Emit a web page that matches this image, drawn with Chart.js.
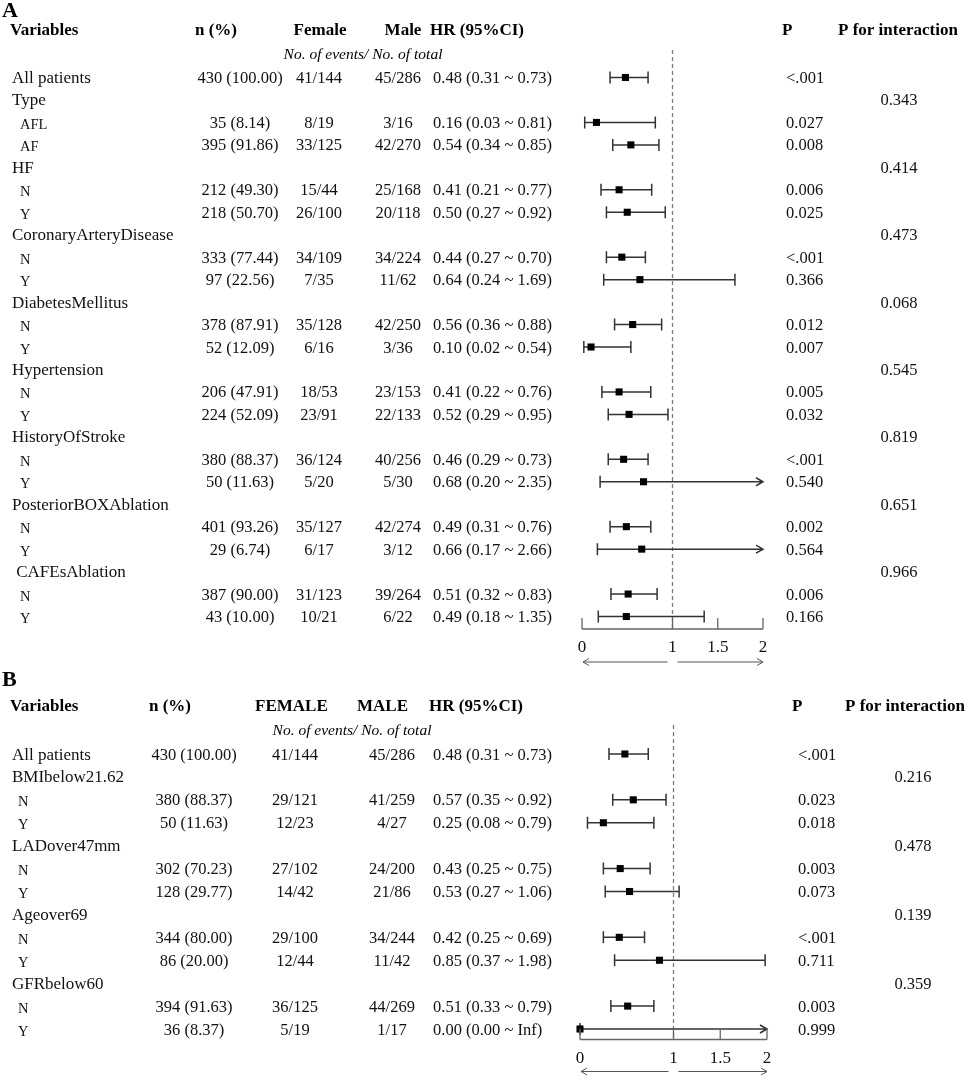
<!DOCTYPE html>
<html>
<head>
<meta charset="utf-8">
<title>Forest plots</title>
<script src="https://cdn.jsdelivr.net/npm/chart.js@4.4.0/dist/chart.umd.min.js"></script>
<style>
  html, body { margin: 0; padding: 0; background: #fff; }
  #wrap { position: relative; width: 972px; height: 1076px; overflow: hidden; }
  canvas { position: absolute; left: 0; }
</style>
</head>
<body>
<div id="wrap">
  <canvas id="chartA" width="972" height="672" style="top:0;width:972px;height:672px"></canvas>
  <canvas id="chartB" width="972" height="404" style="top:672px;width:972px;height:404px"></canvas>
</div>
<script>
// ---- Panel A data ----
const aVariables = ['All patients', 'Type', 'AFL', 'AF', 'HF', 'N', 'Y', 'CoronaryArteryDisease', 'N', 'Y',
  'DiabetesMellitus', 'N', 'Y', 'Hypertension', 'N', 'Y', 'HistoryOfStroke', 'N', 'Y',
  'PosteriorBOXAblation', 'N', 'Y', ' CAFEsAblation', 'N', 'Y'];
const aSub = [0, 0, 1, 1, 0, 1, 1, 0, 1, 1, 0, 1, 1, 0, 1, 1, 0, 1, 1, 0, 1, 1, 0, 1, 1];
const aCount = ['430 (100.00)', '', '35 (8.14)', '395 (91.86)', '', '212 (49.30)', '218 (50.70)', '', '333 (77.44)', '97 (22.56)',
  '', '378 (87.91)', '52 (12.09)', '', '206 (47.91)', '224 (52.09)', '', '380 (88.37)', '50 (11.63)',
  '', '401 (93.26)', '29 (6.74)', '', '387 (90.00)', '43 (10.00)'];
const aFemale = ['41/144', '', '8/19', '33/125', '', '15/44', '26/100', '', '34/109', '7/35',
  '', '35/128', '6/16', '', '18/53', '23/91', '', '36/124', '5/20', '', '35/127', '6/17', '', '31/123', '10/21'];
const aMale = ['45/286', '', '3/16', '42/270', '', '25/168', '20/118', '', '34/224', '11/62',
  '', '42/250', '3/36', '', '23/153', '22/133', '', '40/256', '5/30', '', '42/274', '3/12', '', '39/264', '6/22'];
const aHR = [0.48, null, 0.16, 0.54, null, 0.41, 0.50, null, 0.44, 0.64, null, 0.56, 0.10, null, 0.41, 0.52,
  null, 0.46, 0.68, null, 0.49, 0.66, null, 0.51, 0.49];
const aLower = [0.31, null, 0.03, 0.34, null, 0.21, 0.27, null, 0.27, 0.24, null, 0.36, 0.02, null, 0.22, 0.29,
  null, 0.29, 0.20, null, 0.31, 0.17, null, 0.32, 0.18];
const aUpper = [0.73, null, 0.81, 0.85, null, 0.77, 0.92, null, 0.70, 1.69, null, 0.88, 0.54, null, 0.76, 0.95,
  null, 0.73, 2.35, null, 0.76, 2.66, null, 0.83, 1.35];
const aP = ['<.001', '', '0.027', '0.008', '', '0.006', '0.025', '', '<.001', '0.366', '', '0.012', '0.007',
  '', '0.005', '0.032', '', '<.001', '0.540', '', '0.002', '0.564', '', '0.006', '0.166'];
const aPInt = ['', '0.343', '', '', '0.414', '', '', '0.473', '', '', '0.068', '', '', '0.545', '', '',
  '0.819', '', '', '0.651', '', '', '0.966', '', ''];

// ---- Panel B data ----
const bVariables = ['All patients', 'BMIbelow21.62', 'N', 'Y', 'LADover47mm', 'N', 'Y', 'Ageover69', 'N', 'Y', 'GFRbelow60', 'N', 'Y'];
const bSub = [0, 0, 1, 1, 0, 1, 1, 0, 1, 1, 0, 1, 1];
const bCount = ['430 (100.00)', '', '380 (88.37)', '50 (11.63)', '', '302 (70.23)', '128 (29.77)', '', '344 (80.00)', '86 (20.00)', '', '394 (91.63)', '36 (8.37)'];
const bFemale = ['41/144', '', '29/121', '12/23', '', '27/102', '14/42', '', '29/100', '12/44', '', '36/125', '5/19'];
const bMale = ['45/286', '', '41/259', '4/27', '', '24/200', '21/86', '', '34/244', '11/42', '', '44/269', '1/17'];
const bHR = [0.48, null, 0.57, 0.25, null, 0.43, 0.53, null, 0.42, 0.85, null, 0.51, 0.00];
const bLower = [0.31, null, 0.35, 0.08, null, 0.25, 0.27, null, 0.25, 0.37, null, 0.33, 0.00];
const bUpper = [0.73, null, 0.92, 0.79, null, 0.75, 1.06, null, 0.69, 1.98, null, 0.79, Infinity];
const bP = ['<.001', '', '0.023', '0.018', '', '0.003', '0.073', '', '<.001', '0.711', '', '0.003', '0.999'];
const bPInt = ['', '0.216', '', '', '0.478', '', '', '0.139', '', '', '0.359', '', ''];

// axis ticks
const axisTicks = [0, 1, 1.5, 2];
const axisLabels = ['0', '1', '1.5', '2'];

const SERIF = '"Liberation Serif", "Times New Roman", serif';
const fmt = v => (v === Infinity ? 'Inf' : v.toFixed(2));

// panel layout (pixels only, no data)
const panelA = {
  letter: 'A', letterY: 11,
  rows: aVariables, sub: aSub, count: aCount, female: aFemale, male: aMale,
  hr: aHR, lower: aLower, upper: aUpper, p: aP, pint: aPInt,
  pad: { left: 582, right: 209, top: 77.5, bottom: 55.5 },
  col: { label: 12, sub: 20, count: 240, female: 319, male: 398, hr: 433, p: 786, pint: 899 },
  headers: [
    ['Variables', 10, 'left'], ['n (%)', 195, 'left'], ['Female', 320, 'center'], ['Male', 403, 'center'],
    ['HR (95%CI)', 430, 'left'], ['P', 782, 'left'], ['P for interaction', 838, 'left']
  ],
  headY: -46.5, subY: -22.5, subX: 363, dashTop: -27.5,
  axisGap: 12.5, labelGap: 31.5, arrowGap: 45.5
};
const panelB = {
  letter: 'B', letterY: 8,
  rows: bVariables, sub: bSub, count: bCount, female: bFemale, male: bMale,
  hr: bHR, lower: bLower, upper: bUpper, p: bP, pint: bPInt,
  pad: { left: 580, right: 205, top: 82, bottom: 47 },
  col: { label: 12, sub: 18, count: 194, female: 295, male: 392, hr: 433, p: 798, pint: 913 },
  headers: [
    ['Variables', 10, 'left'], ['n (%)', 149, 'left'], ['FEMALE', 255, 'left'], ['MALE', 357, 'left'],
    ['HR (95%CI)', 429, 'left'], ['P', 792, 'left'], ['P for interaction', 845, 'left']
  ],
  headY: -47, subY: -23, subX: 352, dashTop: -29,
  axisGap: 10.5, labelGap: 29.5, arrowGap: 42.5
};

function forestPlugin(p) {
  return {
    id: 'forest' + p.letter,
    beforeDatasetsDraw(chart) {
      const { ctx, scales: { x, y } } = chart;
      const top = y.getPixelForValue(0);
      const bottom = y.getPixelForValue(p.rows.length - 1);
      const x1 = x.getPixelForValue(1);
      ctx.save();
      // dashed line at HR = 1
      ctx.strokeStyle = '#7a7a7a';
      ctx.lineWidth = 1.3;
      ctx.setLineDash([4, 3]);
      ctx.beginPath();
      ctx.moveTo(x1, top + p.dashTop);
      ctx.lineTo(x1, bottom + p.axisGap);
      ctx.stroke();
      ctx.setLineDash([]);
      // confidence intervals
      ctx.strokeStyle = '#333';
      ctx.lineWidth = 1.5;
      p.hr.forEach((v, i) => {
        if (v === null) return;
        const yy = y.getPixelForValue(i);
        const lo = x.getPixelForValue(p.lower[i]);
        const over = p.upper[i] > x.max;
        const hi = x.getPixelForValue(Math.min(p.upper[i], x.max));
        ctx.beginPath();
        ctx.moveTo(lo, yy); ctx.lineTo(hi, yy);
        ctx.moveTo(lo, yy - 6); ctx.lineTo(lo, yy + 6);
        if (over) {
          ctx.moveTo(hi - 7, yy - 4); ctx.lineTo(hi, yy); ctx.lineTo(hi - 7, yy + 4);
        } else {
          ctx.moveTo(hi, yy - 6); ctx.lineTo(hi, yy + 6);
        }
        ctx.stroke();
      });
      ctx.restore();
    },
    afterDraw(chart) {
      const { ctx, scales: { x, y } } = chart;
      const top = y.getPixelForValue(0);
      const bottom = y.getPixelForValue(p.rows.length - 1);
      const axisY = bottom + p.axisGap;
      ctx.save();
      // bottom axis with upward ticks
      ctx.strokeStyle = '#666';
      ctx.lineWidth = 1.3;
      ctx.beginPath();
      ctx.moveTo(x.getPixelForValue(axisTicks[0]), axisY);
      ctx.lineTo(x.getPixelForValue(axisTicks[axisTicks.length - 1]), axisY);
      axisTicks.forEach(t => {
        const tx = x.getPixelForValue(t);
        ctx.moveTo(tx, axisY); ctx.lineTo(tx, axisY - 11);
      });
      ctx.stroke();
      ctx.fillStyle = '#111';
      ctx.font = '17px ' + SERIF;
      ctx.textAlign = 'center';
      ctx.textBaseline = 'middle';
      axisTicks.forEach((t, k) => ctx.fillText(axisLabels[k], x.getPixelForValue(t), bottom + p.labelGap));
      // arrows under the axis
      const ay = bottom + p.arrowGap;
      const x0 = x.getPixelForValue(0), x1 = x.getPixelForValue(1), x2 = x.getPixelForValue(2);
      ctx.strokeStyle = '#555';
      ctx.lineWidth = 1;
      ctx.beginPath();
      ctx.moveTo(x1 - 5, ay); ctx.lineTo(x0 + 1, ay);
      ctx.moveTo(x0 + 7, ay - 3.5); ctx.lineTo(x0 + 1, ay); ctx.lineTo(x0 + 7, ay + 3.5);
      ctx.moveTo(x1 + 5, ay); ctx.lineTo(x2, ay);
      ctx.moveTo(x2 - 6, ay - 3.5); ctx.lineTo(x2, ay); ctx.lineTo(x2 - 6, ay + 3.5);
      ctx.stroke();

      // panel letter
      ctx.fillStyle = '#000';
      ctx.textAlign = 'left';
      ctx.font = 'bold 22px ' + SERIF;
      ctx.fillText(p.letter, 2, p.letterY);
      // headers
      ctx.font = 'bold 17px ' + SERIF;
      p.headers.forEach(([t, hx, al]) => {
        ctx.textAlign = al;
        ctx.fillText(t, hx, top + p.headY);
      });
      ctx.font = 'italic 15.5px ' + SERIF;
      ctx.textAlign = 'center';
      ctx.fillText('No. of events/ No. of total', p.subX, top + p.subY);

      // table rows
      ctx.textBaseline = 'alphabetic';
      p.rows.forEach((name, i) => {
        const base = y.getPixelForValue(i) + 5.5;
        ctx.fillStyle = '#111';
        ctx.textAlign = 'left';
        if (p.sub[i]) {
          ctx.font = '14.5px ' + SERIF;
          ctx.fillText(name, p.col.sub, base + 1);
        } else {
          ctx.font = '17px ' + SERIF;
          ctx.fillText(name, p.col.label, base);
        }
        ctx.font = '16.5px ' + SERIF;
        ctx.textAlign = 'center';
        if (p.count[i]) ctx.fillText(p.count[i], p.col.count, base);
        if (p.female[i]) ctx.fillText(p.female[i], p.col.female, base);
        if (p.male[i]) ctx.fillText(p.male[i], p.col.male, base);
        if (p.pint[i]) ctx.fillText(p.pint[i], p.col.pint, base);
        ctx.textAlign = 'left';
        if (p.hr[i] !== null) {
          ctx.fillText(fmt(p.hr[i]) + ' (' + fmt(p.lower[i]) + ' ~ ' + fmt(p.upper[i]) + ')', p.col.hr, base);
        }
        if (p.p[i]) ctx.fillText(p.p[i], p.col.p, base);
      });
      ctx.restore();
    }
  };
}

function makeForest(canvasId, p) {
  const points = [];
  p.hr.forEach((v, i) => { if (v !== null) points.push({ x: v, y: i }); });
  return new Chart(document.getElementById(canvasId).getContext('2d'), {
    type: 'scatter',
    data: {
      datasets: [{
        data: points,
        pointStyle: 'rect',
        pointRadius: 5,
        pointHoverRadius: 5,
        backgroundColor: '#000',
        borderWidth: 0,
        clip: false
      }]
    },
    options: {
      responsive: false,
      animation: false,
      devicePixelRatio: 1,
      layout: { padding: p.pad },
      plugins: { legend: { display: false }, tooltip: { enabled: false } },
      scales: {
        x: { type: 'linear', min: 0, max: 2, display: false },
        y: { type: 'linear', min: 0, max: p.rows.length - 1, reverse: true, display: false }
      }
    },
    plugins: [forestPlugin(p)]
  });
}

makeForest('chartA', panelA);
makeForest('chartB', panelB);
</script>
</body>
</html>
